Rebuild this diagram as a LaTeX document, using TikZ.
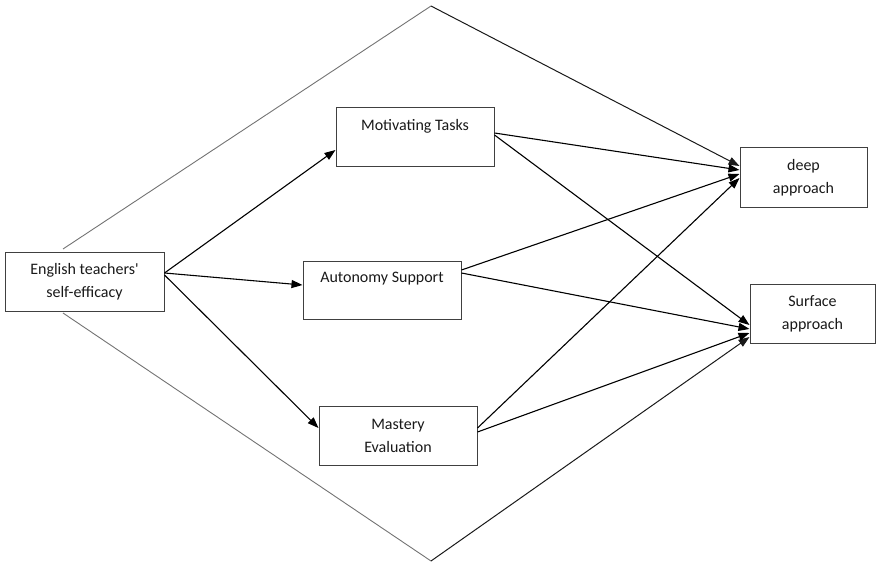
\documentclass[tikz,border=0pt]{standalone}
\usepackage{fontspec}
\setmainfont{Carlito}
\newfontfamily\lblfont{Carlito}
\usetikzlibrary{arrows.meta}
\begin{document}
\begin{tikzpicture}[x=1pt,y=-1pt,
  box/.style={draw=black!75, line width=1pt, rectangle, inner sep=0pt},
  lbl/.style={font=\lblfont\fontsize{16}{23}\selectfont, align=center, inner sep=0pt, text=black!90},
  conn/.style={line width=1.1pt, -{Triangle[length=11pt,width=8pt]}},
  diaL/.style={line width=0.9pt, draw=black!55},
  diaR/.style={line width=1pt, draw=black!90, -{Triangle[length=11pt,width=8pt]}}]
\useasboundingbox (0,0) rectangle (876,567);
% boxes
\node[box, minimum width=159pt, minimum height=59pt] (eng) at (84.5,281.5) {};
\node[box, minimum width=158pt, minimum height=59pt] (mot) at (415,137.5) {};
\node[box, minimum width=158pt, minimum height=58pt] (aut) at (382,290) {};
\node[box, minimum width=158pt, minimum height=59pt] (mas) at (398,435.5) {};
\node[box, minimum width=127pt, minimum height=59pt] (deep) at (803.5,177.5) {};
\node[box, minimum width=125pt, minimum height=59pt] (surf) at (812.5,313.5) {};
% labels
\node[lbl] (engt) at (eng.center) {English teachers'\\self-efficacy};
\node[lbl] (mott) at ([yshift=-19pt]mot.north) {Motivating Tasks};
\node[lbl] (autt) at ([yshift=-18pt]aut.north) {Autonomy Support};
\node[lbl] (mast) at (mas.center) {Mastery\\Evaluation};
\node[lbl] (deept) at (deep.center) {deep\\approach};
\node[lbl] (surft) at (surf.center) {Surface\\approach};
% diamond
\coordinate (dtl) at (63,249);
\coordinate (dbl) at (63,313);
\coordinate (dtop) at (431,6);
\coordinate (dbot) at (431,561);
\draw[diaL] (dtl) -- (dtop);
\draw[diaL] (dbl) -- (dbot);
\draw[diaR] (dtop) -- (deep.west |- 0,166);
\draw[diaR] (dbot) -- (surf.west |- 0,337);
% connectors
\draw[conn] (eng.east |- 0,273) -- (mot.west |- 0,150);
\draw[conn] (eng.east |- 0,273) -- (aut.west |- 0,285);
\draw[conn] (eng.east |- 0,275) -- (mas.west |- 0,428);
\draw[conn] (mot.east |- 0,133) -- (deep.west |- 0,170);
\draw[conn] (mot.east |- 0,135) -- (surf.west |- 0,325);
\draw[conn] (aut.east |- 0,270) -- (deep.west |- 0,174);
\draw[conn] (aut.east |- 0,273) -- (surf.west |- 0,329);
\draw[conn] (mas.east |- 0,428) -- (deep.west |- 0,178);
\draw[conn] (mas.east |- 0,432) -- (surf.west |- 0,333);
\end{tikzpicture}
\end{document}
